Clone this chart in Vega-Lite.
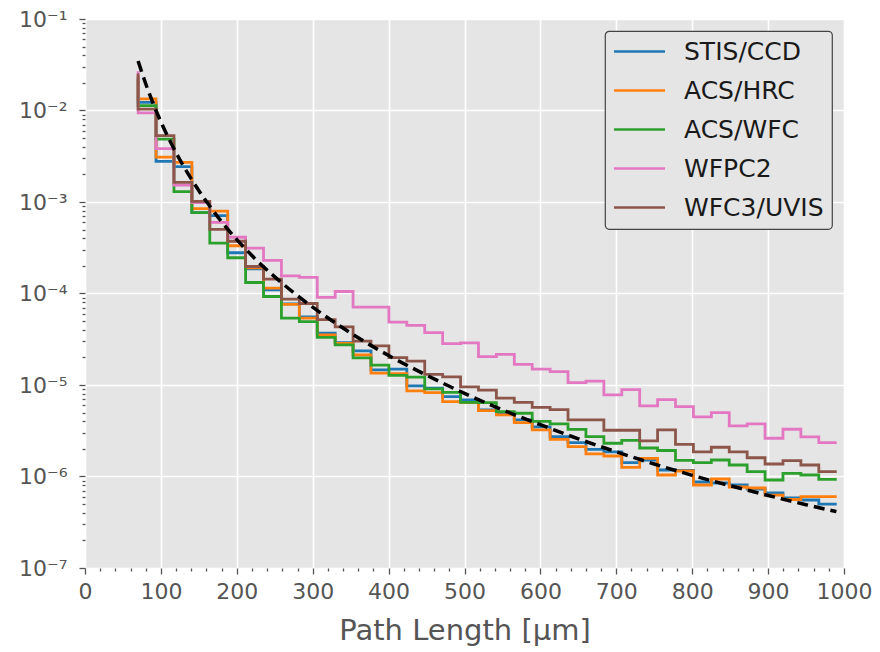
{
  "$schema": "https://vega.github.io/schema/vega-lite/v6.json",
  "width": 759,
  "height": 549,
  "autosize": {"type": "none"},
  "padding": {"left": 85, "top": 19, "right": 36, "bottom": 84},
  "background": "white",
  "datasets": {
    "hist": [
      {"x": 70, "STIS/CCD": 2.291e-2, "ACS/HRC": 2.409e-2, "ACS/WFC": 2.178e-2, "WFPC2": 2.685e-2, "WFC3/UVIS": 2.533e-2},
      {"x": 93.6, "STIS/CCD": 1.229e-2, "ACS/HRC": 1.339e-2, "ACS/WFC": 1.131e-2, "WFPC2": 9.412e-3, "WFC3/UVIS": 1.036e-2},
      {"x": 117.2, "STIS/CCD": 2.781e-3, "ACS/HRC": 3.092e-3, "ACS/WFC": 4.865e-3, "WFPC2": 3.83e-3, "WFC3/UVIS": 5.314e-3},
      {"x": 140.8, "STIS/CCD": 2.434e-3, "ACS/HRC": 2.713e-3, "ACS/WFC": 1.296e-3, "WFPC2": 1.527e-3, "WFC3/UVIS": 1.638e-3},
      {"x": 164.4, "STIS/CCD": 7.64e-4, "ACS/HRC": 8.447e-4, "ACS/WFC": 7.64e-4, "WFPC2": 9.824e-4, "WFC3/UVIS": 1.015e-3},
      {"x": 188, "STIS/CCD": 7.08e-4, "ACS/HRC": 7.93e-4, "ACS/WFC": 3.559e-4, "WFPC2": 5.982e-4, "WFC3/UVIS": 5.014e-4},
      {"x": 211.6, "STIS/CCD": 2.788e-4, "ACS/HRC": 3.325e-4, "ACS/WFC": 2.458e-4, "WFPC2": 4.121e-4, "WFC3/UVIS": 3.725e-4},
      {"x": 235.2, "STIS/CCD": 1.863e-4, "ACS/HRC": 1.911e-4, "ACS/WFC": 1.319e-4, "WFPC2": 3.139e-4, "WFC3/UVIS": 1.974e-4},
      {"x": 258.8, "STIS/CCD": 1.098e-4, "ACS/HRC": 1.146e-4, "ACS/WFC": 9.273e-5, "WFPC2": 2.297e-4, "WFC3/UVIS": 1.437e-4},
      {"x": 282.4, "STIS/CCD": 7.715e-5, "ACS/HRC": 7.617e-5, "ACS/WFC": 5.382e-5, "WFPC2": 1.562e-4, "WFC3/UVIS": 8.684e-5},
      {"x": 306, "STIS/CCD": 5.561e-5, "ACS/HRC": 5.382e-5, "ACS/WFC": 4.939e-5, "WFPC2": 1.497e-4, "WFC3/UVIS": 7.773e-5},
      {"x": 329.6, "STIS/CCD": 3.687e-5, "ACS/HRC": 3.532e-5, "ACS/WFC": 3.317e-5, "WFPC2": 9.088e-5, "WFC3/UVIS": 5.194e-5},
      {"x": 353.2, "STIS/CCD": 2.910e-5, "ACS/HRC": 2.852e-5, "ACS/WFC": 2.746e-5, "WFPC2": 1.052e-4, "WFC3/UVIS": 4.322e-5},
      {"x": 376.8, "STIS/CCD": 2.361e-5, "ACS/HRC": 2.135e-5, "ACS/WFC": 1.979e-5, "WFPC2": 7.098e-5, "WFC3/UVIS": 3.022e-5},
      {"x": 400.4, "STIS/CCD": 1.463e-5, "ACS/HRC": 1.346e-5, "ACS/WFC": 1.647e-5, "WFPC2": 7.098e-5, "WFC3/UVIS": 2.678e-5},
      {"x": 424, "STIS/CCD": 1.489e-5, "ACS/HRC": 1.332e-5, "ACS/WFC": 1.274e-5, "WFPC2": 4.877e-5, "WFC3/UVIS": 1.989e-5},
      {"x": 447.6, "STIS/CCD": 9.77e-6, "ACS/HRC": 8.618e-6, "ACS/WFC": 1.217e-5, "WFPC2": 4.488e-5, "WFC3/UVIS": 1.826e-5},
      {"x": 471.2, "STIS/CCD": 9.226e-6, "ACS/HRC": 8.256e-6, "ACS/WFC": 9.065e-6, "WFPC2": 3.744e-5, "WFC3/UVIS": 1.306e-5},
      {"x": 494.8, "STIS/CCD": 7.467e-6, "ACS/HRC": 6.581e-6, "ACS/WFC": 8.298e-6, "WFPC2": 2.838e-5, "WFC3/UVIS": 1.226e-5},
      {"x": 518.4, "STIS/CCD": 6.871e-6, "ACS/HRC": 6.417e-6, "ACS/WFC": 6.45e-6, "WFPC2": 2.888e-5, "WFC3/UVIS": 9.533e-6},
      {"x": 542, "STIS/CCD": 5.341e-6, "ACS/HRC": 5.247e-6, "ACS/WFC": 6.417e-6, "WFPC2": 2.045e-5, "WFC3/UVIS": 8.772e-6},
      {"x": 565.6, "STIS/CCD": 4.95e-6, "ACS/HRC": 4.708e-6, "ACS/WFC": 5.117e-6, "WFPC2": 2.161e-5, "WFC3/UVIS": 7.171e-6},
      {"x": 589.2, "STIS/CCD": 4.153e-6, "ACS/HRC": 3.878e-6, "ACS/WFC": 4.914e-6, "WFPC2": 1.68e-5, "WFC3/UVIS": 6.45e-6},
      {"x": 612.8, "STIS/CCD": 3.479e-6, "ACS/HRC": 3.227e-6, "ACS/WFC": 3.999e-6, "WFPC2": 1.489e-5, "WFC3/UVIS": 5.688e-6},
      {"x": 636.4, "STIS/CCD": 2.725e-6, "ACS/HRC": 2.54e-6, "ACS/WFC": 3.753e-6, "WFPC2": 1.402e-5, "WFC3/UVIS": 5.382e-6},
      {"x": 660, "STIS/CCD": 2.343e-6, "ACS/HRC": 2.118e-6, "ACS/WFC": 3.267e-6, "WFPC2": 1.063e-5, "WFC3/UVIS": 4.153e-6},
      {"x": 683.6, "STIS/CCD": 1.984e-6, "ACS/HRC": 1.763e-6, "ACS/WFC": 2.725e-6, "WFPC2": 1.103e-5, "WFC3/UVIS": 4.153e-6},
      {"x": 707.2, "STIS/CCD": 1.854e-6, "ACS/HRC": 1.676e-6, "ACS/WFC": 2.308e-6, "WFPC2": 7.794e-6, "WFC3/UVIS": 3.202e-6},
      {"x": 730.8, "STIS/CCD": 1.416e-6, "ACS/HRC": 1.261e-6, "ACS/WFC": 2.477e-6, "WFPC2": 8.907e-6, "WFC3/UVIS": 3.202e-6},
      {"x": 754.4, "STIS/CCD": 1.515e-6, "ACS/HRC": 1.581e-6, "ACS/WFC": 2.05e-6, "WFPC2": 5.906e-6, "WFC3/UVIS": 2.446e-6},
      {"x": 778, "STIS/CCD": 1.178e-6, "ACS/HRC": 1.038e-6, "ACS/WFC": 1.925e-6, "WFPC2": 6.924e-6, "WFC3/UVIS": 3.227e-6},
      {"x": 801.6, "STIS/CCD": 1.163e-6, "ACS/HRC": 1.149e-6, "ACS/WFC": 1.504e-6, "WFPC2": 5.802e-6, "WFC3/UVIS": 2.239e-6},
      {"x": 825.2, "STIS/CCD": 8.706e-7, "ACS/HRC": 8.072e-7, "ACS/WFC": 1.416e-6, "WFPC2": 4.477e-6, "WFC3/UVIS": 1.854e-6},
      {"x": 848.8, "STIS/CCD": 8.491e-7, "ACS/HRC": 9.389e-7, "ACS/WFC": 1.515e-6, "WFPC2": 4.989e-6, "WFC3/UVIS": 2.087e-6},
      {"x": 872.4, "STIS/CCD": 8.072e-7, "ACS/HRC": 7.675e-7, "ACS/WFC": 1.336e-6, "WFPC2": 3.568e-6, "WFC3/UVIS": 1.854e-6},
      {"x": 896, "STIS/CCD": 7.298e-7, "ACS/HRC": 7.486e-7, "ACS/WFC": 1.128e-6, "WFPC2": 3.753e-6, "WFC3/UVIS": 1.602e-6},
      {"x": 919.6, "STIS/CCD": 6.598e-7, "ACS/HRC": 6.274e-7, "ACS/WFC": 9.156e-7, "WFPC2": 2.617e-6, "WFC3/UVIS": 1.37e-6},
      {"x": 943.2, "STIS/CCD": 5.819e-7, "ACS/HRC": 5.603e-7, "ACS/WFC": 1.084e-6, "WFPC2": 3.284e-6, "WFC3/UVIS": 1.489e-6},
      {"x": 966.8, "STIS/CCD": 5.533e-7, "ACS/HRC": 6.012e-7, "ACS/WFC": 1.038e-6, "WFPC2": 2.705e-6, "WFC3/UVIS": 1.336e-6},
      {"x": 990.4, "STIS/CCD": 5.002e-7, "ACS/HRC": 6.012e-7, "ACS/WFC": 9.32e-7, "WFPC2": 2.343e-6, "WFC3/UVIS": 1.128e-6}
    ],
    "fit": [
      {"x": 70, "y": 3.47e-2}, {"x": 80, "y": 1.96e-2}, {"x": 90, "y": 1.18e-2}, {"x": 100, "y": 7.53e-3},
      {"x": 110, "y": 5.01e-3}, {"x": 120, "y": 3.45e-3}, {"x": 130, "y": 2.45e-3}, {"x": 140, "y": 1.79e-3},
      {"x": 160, "y": 1.01e-3}, {"x": 180, "y": 6.09e-4}, {"x": 200, "y": 3.88e-4}, {"x": 225, "y": 2.36e-4},
      {"x": 250, "y": 1.52e-4}, {"x": 275, "y": 1.02e-4}, {"x": 300, "y": 7.1e-5}, {"x": 350, "y": 3.7e-5},
      {"x": 400, "y": 2.1e-5}, {"x": 450, "y": 1.28e-5}, {"x": 500, "y": 8.1e-6}, {"x": 550, "y": 5.35e-6},
      {"x": 600, "y": 3.68e-6}, {"x": 650, "y": 2.58e-6}, {"x": 700, "y": 1.86e-6}, {"x": 750, "y": 1.37e-6},
      {"x": 800, "y": 1.03e-6}, {"x": 850, "y": 7.93e-7}, {"x": 900, "y": 6.21e-7}, {"x": 950, "y": 4.92e-7},
      {"x": 990, "y": 4.13e-7}
    ]
  },
  "layer": [
    {
      "data": {"name": "hist"},
      "transform": [{"fold": ["STIS/CCD", "ACS/HRC", "ACS/WFC", "WFPC2", "WFC3/UVIS"], "as": ["instrument", "value"]}],
      "mark": {"type": "line", "interpolate": "step-before", "strokeWidth": 2.8, "clip": true},
      "encoding": {
        "x": {
          "field": "x", "type": "quantitative",
          "scale": {"domain": [0, 1000], "nice": false, "zero": false},
          "axis": {
            "title": "Path Length [μm]",
            "values": [0,20,40,60,80,100,120,140,160,180,200,220,240,260,280,300,320,340,360,380,400,420,440,460,480,500,520,540,560,580,600,620,640,660,680,700,720,740,760,780,800,820,840,860,880,900,920,940,960,980,1000],
            "tickCount": 200,
            "labelOverlap": false,
            "format": "d",
            "labelExpr": "datum.value % 100 == 0 ? datum.label : ''",
            "tickSize": {"condition": {"test": "datum.value % 100 == 0", "value": 6}, "value": 3},
            "gridOpacity": {"condition": {"test": "datum.value % 100 == 0", "value": 1}, "value": 0},
            "labelPadding": 7,
            "titlePadding": 14,
            "labelFlush": false
          }
        },
        "y": {
          "field": "value", "type": "quantitative",
          "scale": {"type": "log", "domain": [1e-7, 0.1], "nice": false},
          "axis": {
            "title": null,
            "values": [1e-7,2e-7,3e-7,4e-7,5e-7,6e-7,7e-7,8e-7,9e-7,1e-6,2e-6,3e-6,4e-6,5e-6,6e-6,7e-6,8e-6,9e-6,1e-5,2e-5,3e-5,4e-5,5e-5,6e-5,7e-5,8e-5,9e-5,1e-4,2e-4,3e-4,4e-4,5e-4,6e-4,7e-4,8e-4,9e-4,0.001,0.002,0.003,0.004,0.005,0.006,0.007,0.008,0.009,0.01,0.02,0.03,0.04,0.05,0.06,0.07,0.08,0.09,0.1],
            "tickCount": 200,
            "labelOverlap": false,
            "labelExpr": "abs(log(datum.value)/LN10 - round(log(datum.value)/LN10)) < 0.01 ? '10⁻' + ['⁰','¹','²','³','⁴','⁵','⁶','⁷','⁸'][-round(log(datum.value)/LN10)] : ''",
            "tickSize": {"condition": {"test": "abs(log(datum.value)/LN10 - round(log(datum.value)/LN10)) < 0.01", "value": 6}, "value": 3},
            "gridOpacity": {"condition": {"test": "abs(log(datum.value)/LN10 - round(log(datum.value)/LN10)) < 0.01", "value": 1}, "value": 0},
            "labelPadding": 12,
            "labelFlush": false
          }
        },
        "color": {
          "field": "instrument", "type": "nominal",
          "scale": {
            "domain": ["STIS/CCD", "ACS/HRC", "ACS/WFC", "WFPC2", "WFC3/UVIS"],
            "range": ["#1f77b4", "#ff7f0e", "#2ca02c", "#e377c2", "#8c564b"]
          },
          "legend": {
            "title": null,
            "orient": "none",
            "legendX": 520,
            "legendY": 12,
            "symbolType": "M-2.55,0H2.55",
            "symbolSize": 400,
            "symbolStrokeWidth": 2.6,
            "symbolFillColor": "transparent",
            "symbolOffset": 14,
            "labelOffset": 32,
            "labelFontSize": 25,
            "labelFont": "DejaVu Sans",
            "labelColor": "#1a1a1a",
            "rowPadding": 13,
            "padding": 8,
            "fillColor": "#E5E5E5",
            "strokeColor": "#444444",
            "cornerRadius": 4,
            "encode": {"legend": {"update": {"strokeWidth": {"value": 1.2}}}}
          }
        }
      }
    },
    {
      "data": {"name": "fit"},
      "mark": {"type": "line", "color": "black", "strokeWidth": 3.5, "strokeDash": [11, 6], "interpolate": "monotone", "clip": true},
      "encoding": {
        "x": {"field": "x", "type": "quantitative"},
        "y": {"field": "y", "type": "quantitative"}
      }
    }
  ],
  "config": {
    "view": {"fill": "#E5E5E5", "stroke": null},
    "axis": {
      "domain": false,
      "grid": true,
      "gridColor": "white",
      "gridWidth": 1.6,
      "tickColor": "#555555",
      "tickWidth": 1.3,
      "labelColor": "#555555",
      "labelFont": "DejaVu Sans",
      "labelFontSize": 22,
      "titleFont": "DejaVu Sans",
      "titleFontSize": 29,
      "titleFontWeight": "normal",
      "titleColor": "#555555"
    }
  }
}
